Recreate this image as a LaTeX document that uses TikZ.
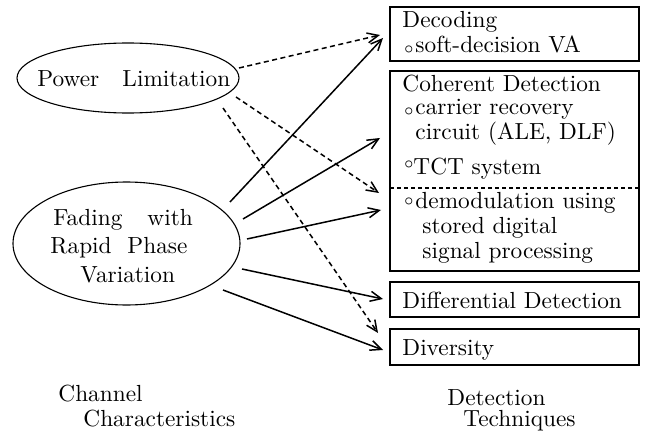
\documentclass[tikz,border=0pt]{standalone}
\usetikzlibrary{shapes.geometric,arrows.meta}
\begin{document}
\begin{tikzpicture}[x=1pt,y=-1pt,
  every node/.style={inner sep=0pt},
  tbox/.style={draw, line width=1.6pt, rectangle},
  oval/.style={draw, line width=1.1pt, ellipse},
  lbl/.style={anchor=base west, font=\fontsize{10}{12}\selectfont, scale=2.33},
  bul/.style={anchor=center, font=\fontsize{10}{12}\selectfont, scale=2.33},
  sarr/.style={line width=1.5pt, -{Straight Barb[length=11pt,width=10pt,line width=1.5pt]}},
  darr/.style={line width=1.5pt, dash pattern=on 5pt off 3.5pt, -{Straight Barb[length=11pt,width=10pt,line width=1.5pt]}}]
\useasboundingbox (0,0) rectangle (648,433);
% ellipses
\node[oval, minimum width=222pt, minimum height=70pt] (pl) at (128,78) {};
\node[oval, minimum width=227pt, minimum height=123pt] (fd) at (126.5,243.5) {};
\node[lbl] (plt1) at (37,87) {Power};
\node[lbl] (plt2) at (122,87) {Limitation};
\node[lbl] (fd1a) at (53,225) {Fading};
\node[lbl] (fd1b) at (147,225) {with};
\node[lbl] (fd2a) at (50,253) {Rapid};
\node[lbl] (fd2b) at (127,253) {Phase};
\node[lbl] (fd3) at (80,282) {Variation};
% boxes
\node[tbox, minimum width=249pt, minimum height=54pt] (dec) at (514.5,34) {};
\node[tbox, minimum width=249pt, minimum height=200pt] (coh) at (514.5,171) {};
\node[tbox, minimum width=249pt, minimum height=35pt] (dif) at (514.5,299.5) {};
\node[tbox, minimum width=249pt, minimum height=36pt] (div) at (514.5,347) {};
\coordinate (sepL) at (390,188);
\coordinate (sepR) at (639,188);
\draw[line width=1.3pt, dash pattern=on 4pt off 3pt] (sepL) -- (sepR);
% box texts
\node[lbl] (t1) at (402,28) {Decoding};
\node[bul] (b1) at (409,50) {$\scriptstyle\circ$};
\node[lbl] (t2) at (415,53) {soft-decision VA};
\node[lbl] (t3) at (402,92) {Coherent Detection};
\node[bul] (b2) at (409,112) {$\scriptstyle\circ$};
\node[lbl] (t4) at (415,115) {carrier recovery};
\node[lbl] (t5) at (415,140) {circuit (ALE, DLF)};
\node[bul] (b3) at (409,165) {$\scriptstyle\circ$};
\node[lbl] (t6) at (413,175) {TCT system};
\node[bul] (b4) at (409,202) {$\scriptstyle\circ$};
\node[lbl] (t7) at (415,208) {demodulation using};
\node[lbl] (t8) at (422,233) {stored digital};
\node[lbl] (t9) at (422,258) {signal processing};
\node[lbl] (t10) at (402,308) {Differential Detection};
\node[lbl] (t11) at (402,355) {Diversity};
% captions
\node[lbl] (c1) at (58,401) {Channel};
\node[lbl] (c2) at (83,426) {Characteristics};
\node[lbl] (c3) at (447,405) {Detection};
\node[lbl] (c4) at (463,426) {Techniques};
% connector ends
\coordinate (pa) at (239,68);
\coordinate (pb) at (236,97);
\coordinate (pc) at (223,108);
\coordinate (fa) at (230,202);
\coordinate (fb) at (243,219);
\coordinate (fc) at (247,239);
\coordinate (fdd) at (242,269);
\coordinate (fe) at (223,290);
\coordinate (ea) at (380,35);
\coordinate (eb) at (379,193);
\coordinate (ec) at (378,333);
\coordinate (ga) at (383,38);
\coordinate (gb) at (380,138);
\coordinate (gc) at (381,210);
\coordinate (gd) at (383,299);
\coordinate (ge) at (383,350);
\draw[darr] (pa) -- (ea);
\draw[darr] (pb) -- (eb);
\draw[darr] (pc) -- (ec);
\draw[sarr] (fa) -- (ga);
\draw[sarr] (fb) -- (gb);
\draw[sarr] (fc) -- (gc);
\draw[sarr] (fdd) -- (gd);
\draw[sarr] (fe) -- (ge);
\end{tikzpicture}
\end{document}
